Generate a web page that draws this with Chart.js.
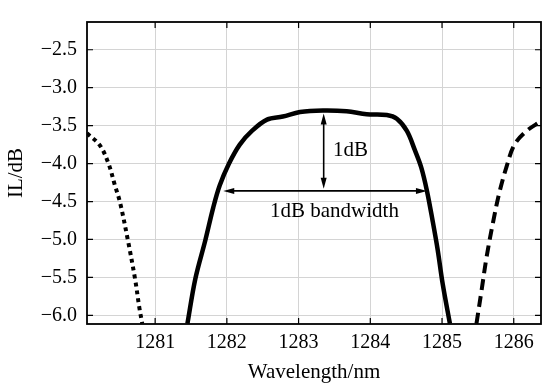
<!DOCTYPE html>
<html>
<head>
<meta charset="utf-8">
<script src="https://cdn.jsdelivr.net/npm/chart.js@4.4.0/dist/chart.umd.min.js"></script>
<style>
  html, body { margin: 0; padding: 0; background: #fff; }
  #wrap { width: 542px; height: 385px; }
</style>
</head>
<body>
<div id="wrap"><canvas id="graf" width="542" height="385"></canvas></div>
<script>
// curva central (linha cheia)
var solidWl = [1281.45, 1281.56, 1281.70, 1281.81, 1281.90, 1282.03, 1282.18, 1282.36, 1282.56, 1282.78, 1283.02, 1283.34, 1283.67, 1283.95, 1284.23, 1284.37, 1284.51, 1284.62, 1284.71, 1284.79, 1284.87, 1284.94, 1285.01, 1285.11];
var solidIL = [-6.11, -5.52, -5.01, -4.58, -4.29, -4.00, -3.75, -3.56, -3.42, -3.38, -3.32, -3.30, -3.31, -3.35, -3.36, -3.41, -3.57, -3.82, -4.05, -4.36, -4.76, -5.14, -5.59, -6.11];
// canal da esquerda (pontilhado)
var dottedWl = [1280.05, 1280.23, 1280.35, 1280.44, 1280.51, 1280.62, 1280.72, 1280.78, 1280.82];
var dottedIL = [-3.60, -3.76, -4.00, -4.29, -4.51, -5.01, -5.52, -5.90, -6.11];
// canal da direita (tracejado)
var dashedWl = [1285.48, 1285.55, 1285.62, 1285.71, 1285.80, 1285.90, 1286.01, 1286.18, 1286.38];
var dashedIL = [-6.11, -5.68, -5.24, -4.78, -4.38, -4.04, -3.75, -3.57, -3.44];

var xTicks = [1281, 1282, 1283, 1284, 1285, 1286];
var yTicks = [-6.0, -5.5, -5.0, -4.5, -4.0, -3.5, -3.0, -2.5];

// setas de anotação
var arrow1dB = { x: 1283.35, y1: -3.34, y2: -4.33, label: '1dB', lx: 1283.48, ly: -3.83 };
var arrowBw = { y: -4.36, x1: 1281.95, x2: 1284.79, label: '1dB bandwidth', lx: 1283.50, ly: -4.63 };

function pts(xs, ys) {
    return xs.map(function (x, i) { return { x: x, y: ys[i] }; });
}

var serif = '"Liberation Serif", "DejaVu Serif", serif';

function arrowHead(ctx, x, y, ang) {
    var len = 11, half = 3;
    ctx.save();
    ctx.translate(x, y);
    ctx.rotate(ang);
    ctx.beginPath();
    ctx.moveTo(0, 0);
    ctx.lineTo(-len, -half);
    ctx.lineTo(-len, half);
    ctx.closePath();
    ctx.fill();
    ctx.restore();
}

var framePlugin = {
    id: 'frame',
    afterDatasetsDraw: function (chart) {
        var ctx = chart.ctx;
        var a = chart.chartArea;
        var xs = chart.scales.x, ys = chart.scales.y;
        ctx.save();
        ctx.strokeStyle = '#000';
        ctx.fillStyle = '#000';
        // moldura
        ctx.lineWidth = 1.8;
        ctx.strokeRect(a.left, a.top, a.right - a.left, a.bottom - a.top);
        // marcas internas
        ctx.lineWidth = 1.2;
        ctx.beginPath();
        xTicks.forEach(function (v) {
            var px = xs.getPixelForValue(v);
            ctx.moveTo(px, a.bottom); ctx.lineTo(px, a.bottom - 6);
            ctx.moveTo(px, a.top); ctx.lineTo(px, a.top + 6);
        });
        yTicks.forEach(function (v) {
            var py = ys.getPixelForValue(v);
            ctx.moveTo(a.left, py); ctx.lineTo(a.left + 6, py);
            ctx.moveTo(a.right, py); ctx.lineTo(a.right - 6, py);
        });
        ctx.stroke();

        // seta vertical 1dB
        ctx.lineWidth = 1.6;
        var vx = xs.getPixelForValue(arrow1dB.x);
        var vy1 = ys.getPixelForValue(arrow1dB.y1);
        var vy2 = ys.getPixelForValue(arrow1dB.y2);
        ctx.beginPath();
        ctx.moveTo(vx, vy1 + 6); ctx.lineTo(vx, vy2 - 6);
        ctx.stroke();
        arrowHead(ctx, vx, vy1, -Math.PI / 2);
        arrowHead(ctx, vx, vy2, Math.PI / 2);

        // seta horizontal largura de banda
        var hy = ys.getPixelForValue(arrowBw.y);
        var hx1 = xs.getPixelForValue(arrowBw.x1);
        var hx2 = xs.getPixelForValue(arrowBw.x2);
        ctx.beginPath();
        ctx.moveTo(hx1 + 6, hy); ctx.lineTo(hx2 - 6, hy);
        ctx.stroke();
        arrowHead(ctx, hx1, hy, Math.PI);
        arrowHead(ctx, hx2, hy, 0);

        // textos
        ctx.font = '21px ' + serif;
        ctx.textBaseline = 'middle';
        ctx.textAlign = 'left';
        ctx.fillText(arrow1dB.label, xs.getPixelForValue(arrow1dB.lx), ys.getPixelForValue(arrow1dB.ly));
        ctx.textAlign = 'center';
        ctx.fillText(arrowBw.label, xs.getPixelForValue(arrowBw.lx), ys.getPixelForValue(arrowBw.ly));
        ctx.restore();
    }
};

function createChart() {
    var ctx = document.getElementById('graf').getContext('2d');
    new Chart(ctx, {
        type: 'line',
        data: {
            datasets: [{
                data: pts(solidWl, solidIL),
                borderColor: '#000',
                borderWidth: 4.5,
                pointRadius: 0,
                tension: 0.35
            }, {
                data: pts(dottedWl, dottedIL),
                borderColor: '#000',
                borderWidth: 4,
                borderDash: [4, 4],
                pointRadius: 0,
                tension: 0.35
            }, {
                data: pts(dashedWl, dashedIL),
                borderColor: '#000',
                borderWidth: 4,
                borderDash: [11, 6],
                pointRadius: 0,
                tension: 0.35
            }]
        },
        options: {
            responsive: false,
            animation: false,
            layout: { padding: { top: 9, right: 1, left: 0, bottom: 0 } },
            plugins: {
                legend: { display: false },
                tooltip: { enabled: false }
            },
            scales: {
                x: {
                    type: 'linear',
                    min: 1280.05,
                    max: 1286.38,
                    afterBuildTicks: function (s) {
                        s.ticks = xTicks.map(function (v) { return { value: v }; });
                    },
                    afterFit: function (s) { s.height = 61; },
                    border: { display: false },
                    grid: { color: '#d4d4d4', lineWidth: 1, drawTicks: false },
                    ticks: {
                        color: '#000',
                        padding: 7,
                        maxRotation: 0,
                        font: { family: serif, size: 20 },
                        callback: function (v) { return String(v); }
                    },
                    title: {
                        display: true,
                        text: 'Wavelength/nm',
                        color: '#000',
                        padding: { top: 0, bottom: 0 },
                        font: { family: serif, size: 21 }
                    }
                },
                y: {
                    type: 'linear',
                    min: -6.114,
                    max: -2.134,
                    afterBuildTicks: function (s) {
                        s.ticks = yTicks.map(function (v) { return { value: v }; });
                    },
                    afterFit: function (s) { s.width = 87; },
                    border: { display: false },
                    grid: { color: '#d4d4d4', lineWidth: 1, drawTicks: false },
                    ticks: {
                        color: '#000',
                        padding: 10,
                        font: { family: serif, size: 20 },
                        callback: function (v) { return '\u2212' + Math.abs(v).toFixed(1); }
                    },
                    title: {
                        display: true,
                        text: 'IL/dB',
                        color: '#000',
                        padding: { top: 4, bottom: 0 },
                        font: { family: serif, size: 21 }
                    }
                }
            }
        },
        plugins: [framePlugin]
    });
}

document.addEventListener('DOMContentLoaded', createChart);
</script>
</body>
</html>
